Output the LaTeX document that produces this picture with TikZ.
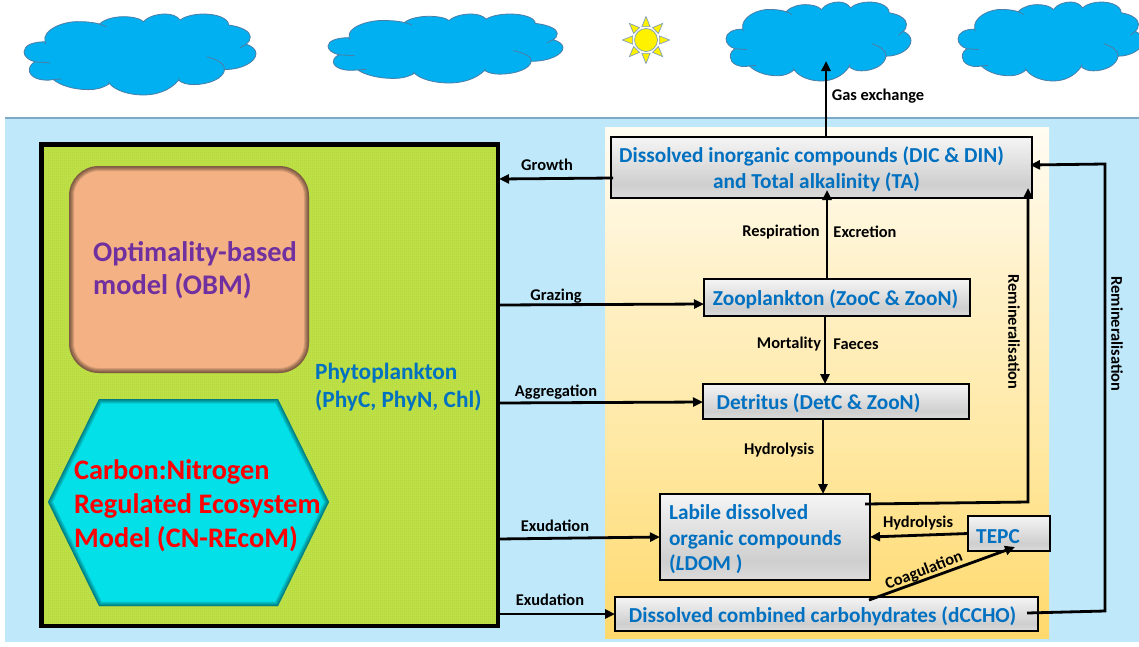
\documentclass[tikz,border=0pt]{standalone}
\usepackage{fontspec}
\setmainfont{Carlito}
\usetikzlibrary{arrows.meta,calc,patterns}
\definecolor{seaC}{HTML}{BFE9FB}
\definecolor{seaL}{HTML}{7FA9C9}
\definecolor{greenC}{HTML}{BEE043}
\definecolor{greenD}{HTML}{A6CF52}
\definecolor{cloudC}{HTML}{00B0F0}
\definecolor{cloudL}{HTML}{4A7EA8}
\definecolor{blueT}{HTML}{0070C0}
\definecolor{purpleT}{HTML}{7030A0}
\definecolor{obmC}{HTML}{F4B183}
\definecolor{hexC}{HTML}{04E0E8}
\definecolor{sunL}{HTML}{7F9DB9}
\pgfdeclarepatternformonly{finedots}{\pgfpointorigin}{\pgfqpoint{2pt}{2pt}}{\pgfqpoint{2pt}{2pt}}{\pgfpathrectangle{\pgfpointorigin}{\pgfqpoint{1pt}{1pt}}\pgfusepath{fill}}
\pgfdeclareverticalshading{boxsh}{100bp}{color(0bp)=(black!14);color(25bp)=(black!14);color(36bp)=(black!19);color(75bp)=(black!4);color(100bp)=(black!4)}
\definecolor{pA}{HTML}{FFFCF3}
\definecolor{pB}{HTML}{FFF1C8}
\definecolor{pC}{HTML}{FFE9A6}
\definecolor{pD}{HTML}{FFD96C}
\pgfdeclareverticalshading{panelsh}{100bp}{color(0bp)=(pD);color(25bp)=(pD);color(45bp)=(pC);color(60bp)=(pB);color(75bp)=(pA);color(100bp)=(pA)}
\newcommand{\cloudpath}{(72,155) .. controls (72,135) and (100,125) .. (135,125)
 .. controls (125,90) and (190,62) .. (240,65) .. controls (265,65) and (285,68) .. (298,72)
 .. controls (315,55) and (350,50) .. (370,50) .. controls (395,50) and (420,55) .. (430,65)
 .. controls (445,48) and (475,42) .. (495,42) .. controls (515,42) and (530,48) .. (540,60)
 .. controls (555,48) and (585,42) .. (610,42) .. controls (650,42) and (685,55) .. (685,75)
 .. controls (725,80) and (750,95) .. (750,110) .. controls (750,120) and (745,128) .. (738,132)
 .. controls (755,138) and (767,148) .. (767,160) .. controls (767,185) and (725,208) .. (673,208)
 .. controls (670,235) and (625,253) .. (580,253) .. controls (560,253) and (545,248) .. (535,240)
 .. controls (510,270) and (470,284) .. (430,284) .. controls (385,284) and (345,270) .. (328,250)
 .. controls (305,265) and (285,268) .. (265,268) .. controls (220,268) and (180,255) .. (160,238)
 .. controls (120,245) and (88,230) .. (88,210) .. controls (88,198) and (95,190) .. (105,185)
 .. controls (85,180) and (72,168) .. (72,155) -- cycle}
% #1 left, #2 top, #3 width, #4 height
\newcommand{\skycloud}[4]{%
 \pgfmathsetmacro{\sx}{#3/695}\pgfmathsetmacro{\sy}{#4/242}%
 \pgfmathsetmacro{\ox}{#1-72*\sx}\pgfmathsetmacro{\oy}{#2-42*\sy}%
 \begin{scope}[shift={(\ox,\oy)},xscale=\sx,yscale=\sy]
  \fill[cloudC] \cloudpath;
  \draw[cloudline] \cloudpath;
  \draw[cloudline] (298,72) -- (320,80) (720,143) -- (738,132) (620,170) .. controls (650,178) and (675,190) .. (673,208)
    (160,238) -- (185,236) (105,185) -- (150,188) (135,125) -- (137,132) (535,240) -- (537,233) (328,250) -- (324,245);
 \end{scope}}
\tikzset{
 cloudline/.style={draw=cloudL,line width=.8pt},
 arr/.style={line width=2.8pt,-{Triangle[length=10pt,width=9pt]}},
 boxnode/.style={draw=black,line width=2.6pt,outer sep=0pt,shading=boxsh,inner sep=0pt,anchor=north west,font=\fontsize{21.3}{25.5}\selectfont\bfseries,text=blueT,align=flush center,execute at begin node={\rule{0pt}{19.5pt}}},
 lab/.style={font=\fontsize{16.4}{18}\selectfont\bfseries,text=black,inner sep=0pt},
}
\begin{document}
\begin{tikzpicture}[x=1pt,y=-1pt]
\useasboundingbox (0,0) rectangle (1139,646);
\fill[white] (0,0) rectangle (1139,646);
% sky
\begin{scope}
\clip (0,0) rectangle (1139,646);
\skycloud{24}{14}{232}{81}
\skycloud{328}{14}{235}{69}
\skycloud{726}{2}{185}{79}
\skycloud{958}{2}{185}{79}
\end{scope}
% sun
\coordinate (sunc) at (646,40);
\foreach \a in {0,45,...,315}{
 \draw[sunL,fill=yellow,line width=.7pt] ($(sunc)+(\a:23.5)$) -- ($(sunc)+(\a+17:14)$) -- ($(sunc)+(\a-17:14)$) -- cycle;
}
\node[circle,draw=sunL,fill=yellow,line width=.7pt,minimum size=23pt,inner sep=0pt] (sun) at (sunc) {};
% sea
\fill[seaC] (5,118) rectangle (1139,642);
\draw[seaL,line width=1.2pt] (5,118) -- (1139,118);
% panel
\node[shading=panelsh,outer sep=0pt,anchor=north west,minimum width=444pt,minimum height=511pt,inner sep=0pt] (panel) at (605,127) {};
% phytoplankton box
\node[draw=black,preaction={fill=greenC},pattern=finedots,pattern color=greenD,line width=4.5pt,outer sep=0pt,anchor=north west,minimum width=456.5pt,minimum height=481.5pt,inner sep=0pt] (phyto) at (41.5,144.5) {};
% OBM
\node[fill=obmC,rounded corners=30pt,outer sep=0pt,anchor=north west,minimum width=240pt,minimum height=207pt,inner sep=0pt] (obm) at (69,166) {};
\begin{scope}
\clip[rounded corners=30pt] (obm.south west) rectangle (obm.north east);
\foreach \w in {2,4,6,8,10}{\draw[black,opacity=.12,line width=\w pt,rounded corners=30pt] (obm.south west) rectangle (obm.north east);}
\end{scope}
\node[anchor=north west,inner sep=0pt,align=left,font=\fontsize{28.4}{33}\selectfont\bfseries,text=purpleT] (obmt) at (93,241) {Optimality-based\\model (OBM)};
% hexagon
\coordinate (h1) at (48,502); \coordinate (h2) at (99,399); \coordinate (h3) at (278,399);
\coordinate (h4) at (329,502); \coordinate (h5) at (278,606); \coordinate (h6) at (99,606);
\fill[hexC] (h1) -- (h2) -- (h3) -- (h4) -- (h5) -- (h6) -- cycle;
\begin{scope}
\clip (h1) -- (h2) -- (h3) -- (h4) -- (h5) -- (h6) -- cycle;
\foreach \w in {1.5,3,5,7,9}{\draw[black,opacity=.11,line width=\w pt] (h1) -- (h2) -- (h3) -- (h4) -- (h5) -- (h6) -- cycle;}
\end{scope}
\node[anchor=north west,inner sep=0pt,align=left,font=\fontsize{28.3}{34}\selectfont\bfseries,text=red] (cnt) at (74,459) {Carbon:Nitrogen\\Regulated Ecosystem\\Model (CN-REcoM)};
\node[anchor=north west,inner sep=0pt,align=left,font=\fontsize{23.3}{28}\selectfont\bfseries,text=blueT] (phyt) at (315,363) {Phytoplankton\\(PhyC, PhyN, Chl)};
% boxes
\node[boxnode,text width=421pt,minimum height=61pt] (dic) at (611,137) {\hspace*{-20pt}Dissolved inorganic compounds (DIC \& DIN)\\\hspace*{-10pt}and Total alkalinity (TA)};
\node[boxnode,text width=266pt,minimum height=37pt] (zoo) at (704,279) {\hspace*{-3pt}Zooplankton (ZooC \& ZooN)};
\node[boxnode,text width=266pt,minimum height=35pt] (det) at (703,384) {\hspace*{-35pt}Detritus (DetC \& ZooN)};
\node[boxnode,text width=192pt,inner xsep=9pt,minimum height=86pt,align=flush left] (ldom) at (660,494) {Labile dissolved\\organic compounds\\(\textit{L}DOM )};
\node[boxnode,text width=82pt,minimum height=35pt] (tepc) at (968,516) {\hspace*{-22pt}TEPC};
\node[boxnode,text width=423pt,minimum height=34pt] (dccho) at (615,597) {\hspace*{-8pt}Dissolved combined carbohydrates (dCCHO)};
% connector ends
\coordinate (gas) at (826,61);
\coordinate (resp) at (827,190);
\coordinate (mort) at (825,350);
\coordinate (hyd) at (823,450);
\coordinate (r1s) at (865,504);
\coordinate (r1c) at (1028,502);
\coordinate (r1e) at (1028,188);
\coordinate (r2s) at (1027,613);
\coordinate (r2a) at (1105,611);
\coordinate (r2b) at (1105,164);
\coordinate (r2e) at (1030,165);
\coordinate (gros) at (613,178);
\coordinate (groe) at (499,179);
\coordinate (coas) at (869,600);
\coordinate (coae) at (1015,547);
\coordinate (y1a) at (0,305);
\coordinate (y1b) at (0,304);
\coordinate (y2a) at (0,403);
\coordinate (y2b) at (0,402);
\coordinate (y3) at (0,539);
\coordinate (y4) at (0,614);
% connectors
\draw[arr] (gas |- dic.north) -- (gas);
\draw[arr] (gros) -- (groe);
\draw[arr] (resp |- zoo.north) -- (resp);
\draw[arr] (mort |- zoo.south) -- (mort |- det.north);
\draw[arr] (hyd |- det.south) -- (hyd |- ldom.north);
\draw[arr] (phyto.east |- y1a) -- (zoo.west |- y1b);
\draw[arr] (phyto.east |- y2a) -- (det.west |- y2b);
\draw[arr] (phyto.east |- y3) -- (ldom.west);
\draw[arr] (phyto.east |- y4) -- (dccho.west);
\draw[arr] (tepc.west) -- (ldom.east);
\draw[arr] (coas) -- (coae);
\draw[arr,line join=miter] (r1s) -- (r1c) -- (r1e);
\draw[arr,line join=miter] (r2s) -- (r2a) -- (r2b) -- (r2e);
% labels
\node[lab] (l1) at (878,96) {Gas exchange};
\node[lab] (l2) at (547,165) {Growth};
\node[lab] (l3) at (781,232) {Respiration};
\node[lab] (l4) at (865,232) {Excretion};
\node[lab] (l5) at (556,296) {Grazing};
\node[lab] (l6) at (789,344) {Mortality};
\node[lab] (l7) at (856,344) {Faeces};
\node[lab] (l8) at (556,392) {Aggregation};
\node[lab] (l9) at (779,450) {Hydrolysis};
\node[lab] (l10) at (555,526) {Exudation};
\node[lab] (l11) at (550,600) {Exudation};
\node[lab] (l12) at (918,523) {Hydrolysis};
\node[lab,rotate=21] (l13) at (924,571) {Coagulation};
\node[lab,rotate=-90] (l14) at (1014,332) {Remineralisation};
\node[lab,rotate=-90] (l15) at (1117,334) {Remineralisation};
\end{tikzpicture}
\end{document}
